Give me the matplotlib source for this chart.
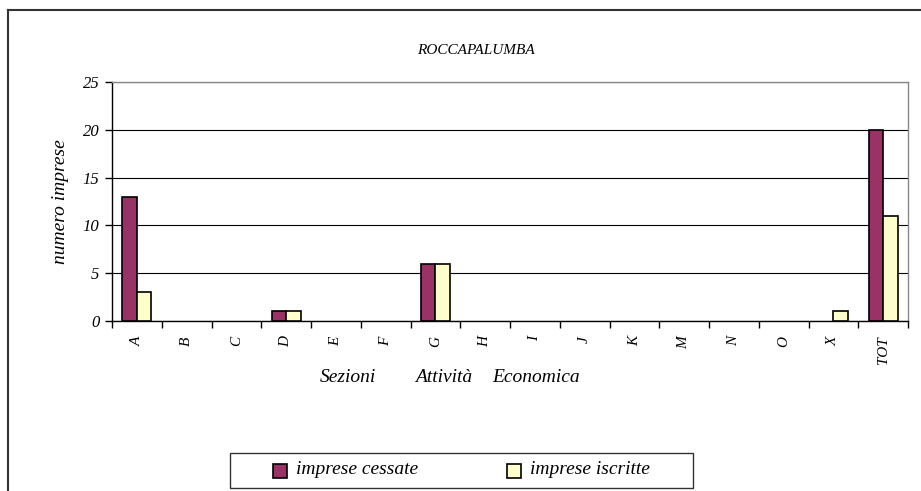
import matplotlib.pyplot as plt
import matplotlib.patches as mpatches
import numpy as np

plt.rcParams['font.family'] = ['Liberation Serif', 'DejaVu Serif']

categories = ['A', 'B', 'C', 'D', 'E', 'F', 'G', 'H', 'I', 'J', 'K', 'M', 'N', 'O', 'X', 'TOT']
cessate = [13, 0, 0, 1, 0, 0, 6, 0, 0, 0, 0, 0, 0, 0, 0, 20]
iscritte = [3, 0, 0, 1, 0, 0, 6, 0, 0, 0, 0, 0, 0, 0, 1, 11]

W, H = 921, 491
fig = plt.figure(figsize=(W / 100, H / 100), dpi=100)


def fx(px):
    return px / W


def fy(py):
    return 1 - py / H


# plot area in pixels: left 112, right 908, top 82, bottom 321
ax = fig.add_axes([fx(112), fy(321), (908 - 112) / W, (321 - 82) / H])

x = np.arange(len(categories))
bw = 0.29
# bars drawn only where value > 0 (Excel does not draw zero-height boxes)
for vals, col, off in [(cessate, '#993366', -bw / 2), (iscritte, '#FFFFCC', bw / 2)]:
    xs = [xi + off for xi, v in zip(x, vals) if v > 0]
    vs = [v for v in vals if v > 0]
    ax.bar(xs, vs, width=bw, color=col, edgecolor='black', linewidth=1.2, zorder=3)

ax.set_xlim(-0.5, len(categories) - 0.5)
ax.set_ylim(0, 25)
ax.set_yticks([0, 5, 10, 15, 20, 25])
ax.set_yticklabels(['0', '5', '10', '15', '20', '25'], fontsize=12, style='italic')
ax.yaxis.grid(True, color='black', linewidth=0.8, zorder=0)

# ticks at category boundaries, labels centered
ax.set_xticks(np.arange(len(categories) + 1) - 0.5)
ax.set_xticklabels([])
ax.set_xticks(x, minor=True)
ax.set_xticklabels(categories, minor=True, rotation=90, fontsize=11, style='italic')
ax.tick_params(axis='x', which='minor', length=0, pad=11)
ax.tick_params(axis='x', which='major', length=5, direction='out', width=1)
ax.tick_params(axis='y', length=5, direction='out', width=1, pad=4)

ax.spines['left'].set_color('black')
ax.spines['bottom'].set_color('black')
ax.spines['top'].set_color('#888888')
ax.spines['right'].set_color('#888888')
for s in ax.spines.values():
    s.set_linewidth(1)

ax.set_ylabel('numero imprese', fontsize=14, style='italic', labelpad=10)

for word, px in [('Sezioni', 348), ('Attività', 444), ('Economica', 536)]:
    fig.text(fx(px), fy(377), word, ha='center', va='center', fontsize=14, style='italic')
fig.text(fx(476), fy(51), 'ROCCAPALUMBA', ha='center', va='center', fontsize=11, style='italic')

# outer chart frame (only left and top visible)
fig.add_artist(plt.Line2D([fx(8), fx(8)], [0, fy(10)], transform=fig.transFigure,
                          color='#333333', linewidth=1.5))
fig.add_artist(plt.Line2D([fx(8), 1], [fy(10), fy(10)], transform=fig.transFigure,
                          color='#333333', linewidth=1.5))

# legend box
fig.add_artist(mpatches.Rectangle((fx(230), fy(488)), (693 - 230) / W, (488 - 453) / H,
                                  transform=fig.transFigure, facecolor='white',
                                  edgecolor='#333333', linewidth=1))
for label, col, hx in [('imprese cessate', '#993366', 273), ('imprese iscritte', '#FFFFCC', 507)]:
    fig.add_artist(mpatches.Rectangle((fx(hx), fy(478)), 14 / W, 14 / H, transform=fig.transFigure,
                                      facecolor=col, edgecolor='black', linewidth=1.2))
    fig.text(fx(hx + 23), fy(470), label, ha='left', va='center', fontsize=14, style='italic')

fig.savefig('out.png', dpi=100)
